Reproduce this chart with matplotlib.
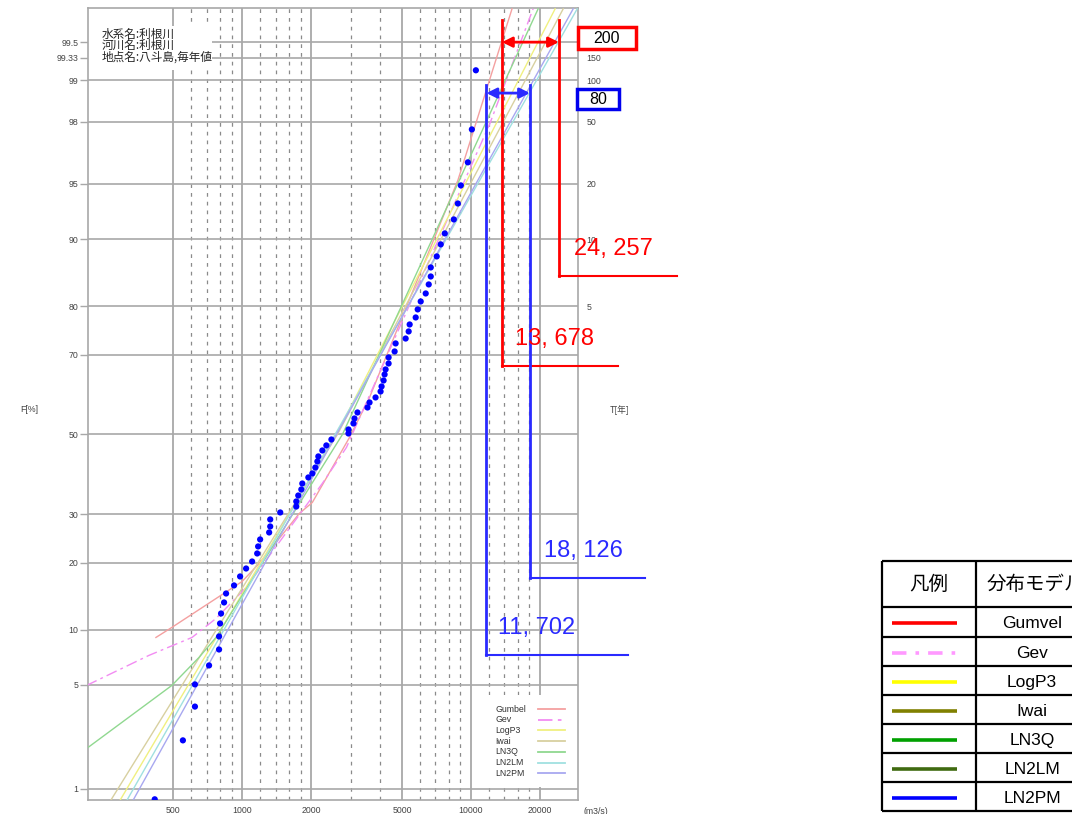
import matplotlib
matplotlib.use('Agg')
import matplotlib.pyplot as plt
from matplotlib.patches import Rectangle
from matplotlib.ticker import NullLocator
from statistics import NormalDist
import numpy as np

# ---------------- data ----------------
obs_Q = [415, 551, 622, 622, 717, 793, 793, 801, 809, 834,
         851, 922, 980, 1041, 1106, 1164, 1175, 1199, 1313, 1327,
         1327, 1468, 1725, 1725, 1760, 1815, 1833, 1948, 2028, 2090,
         2133, 2154, 2243, 2335, 2457, 2917, 2917, 3068, 3099, 3194,
         3533, 3606, 3831, 4030, 4071, 4154, 4196, 4239, 4369, 4369,
         4642, 4689, 5187, 5347, 5401, 5739, 5856, 6036, 6348, 6544,
         6678, 6678, 7093, 7384, 7691, 8423, 8770, 9041, 9701, 10101,
         10517]
obs_F = [0.83, 2.23, 3.70, 5.04, 6.47, 7.90, 9.24, 10.73, 11.99, 13.50,
         14.82, 16.08, 17.56, 18.94, 20.21, 21.73, 23.11, 24.53, 26.00, 27.29,
         28.84, 30.43, 31.81, 33.00, 34.43, 35.90, 37.37, 38.89, 39.90, 41.41,
         42.97, 44.27, 45.82, 47.13, 48.68, 50.26, 51.31, 52.88, 54.18, 55.74,
         57.03, 58.32, 59.60, 61.11, 62.37, 63.85, 65.32, 66.53, 67.94, 69.35,
         70.71, 72.50, 73.56, 75.06, 76.49, 77.88, 79.42, 80.87, 82.27, 83.77,
         85.02, 86.36, 87.88, 89.40, 90.66, 92.10, 93.53, 94.90, 96.30, 97.74,
         99.16]

gumbel_F = [9.13, 10.26, 16.72, 19.85, 30.19, 32.77, 49.2, 59.6, 95.23, 99.74]
gumbel_Q = [420, 493, 1000, 1187, 1778, 2028, 2946, 3606, 8770, 15130]
gev_F = [4.97, 7.34, 9.13, 11.35, 15.75, 37.4, 46.6, 97.94, 99.74]
gev_Q = [209, 391, 604, 769, 1041, 2243, 2858, 12110, 18710]
logp3_F = [0.81, 50.0, 99.74]
logp3_Q = [292, 2585, 23350]
iwai_F = [0.81, 50.0, 99.74]
iwai_Q = [266, 2610, 25330]
ln3q_F = [1.96, 4.97, 7.16, 9.13, 50.0, 99.74]
ln3q_Q = [209, 493, 648, 769, 2745, 19680]
ln2lm_F = [0.81, 99.74]
ln2lm_Q = [313, 29170]
ln2pm_F = [0.81, 99.74]
ln2pm_Q = [333, 28000]

model_names = ['Gumbel', 'Gev', 'LogP3', 'Iwai', 'LN3Q', 'LN2LM', 'LN2PM']
table_names = ['Gumvel', 'Gev', 'LogP3', 'Iwai', 'LN3Q', 'LN2LM', 'LN2PM']

F_ticks = [99.5, 99.33, 99, 98, 95, 90, 80, 70, 50, 30, 20, 10, 5, 1]
F_labels = ['99.5', '99.33', '99', '98', '95', '90', '80', '70', '50', '30', '20', '10', '5', '1']
T_ticks = [150, 100, 50, 20, 10, 5]
x_major = [500, 1000, 2000, 5000, 10000, 20000]
x_minor = [600, 700, 800, 900, 1200, 1400, 1600, 1800, 3000, 4000,
           6000, 7000, 8000, 9000, 12000, 14000, 16000, 18000]

q200_low, q200_high = 13678, 24257
q80_low, q80_high = 11702, 18126
T_red, T_blue = 200, 80

# ---------------- helpers ----------------
nd = NormalDist()
def zf(p):
    return nd.inv_cdf(p / 100.0)
def zs(ps):
    return [zf(p) for p in ps]

W, H = 1072, 814
L, R, T, B = 88, 578, 8, 800
XMIN, XMAX = 212, 29400
YMIN, YMAX = -2.40, 2.80

def qpx(px):
    return 10 ** (np.log10(XMIN) + (px - L) / (R - L) * np.log10(XMAX / XMIN))
def zpx(py):
    return YMIN + (B - py) / (B - T) * (YMAX - YMIN)
def axx(px):
    return (px - L) / (R - L)
def axy(py):
    return (B - py) / (B - T)

fig = plt.figure(figsize=(W / 100, H / 100), dpi=100)
fig.patch.set_facecolor('white')
ax = fig.add_axes([L / W, 1 - B / H, (R - L) / W, (B - T) / H])
ax.set_xscale('log')
ax.set_xlim(XMIN, XMAX)
ax.set_ylim(YMIN, YMAX)

# grid
for v in x_major:
    ax.axvline(v, color='#a8a8a8', lw=1.3, zorder=1)
for v in x_minor:
    ax.axvline(v, color='#8a8a8a', lw=0.9, ls=(0, (3, 4)), zorder=1)
for f in F_ticks:
    ax.axhline(zf(f), color='#a8a8a8', lw=1.2, zorder=1)

for s in ax.spines.values():
    s.set_color('#a8a8a8')
    s.set_linewidth(1.2)

tick_font = dict(family='Liberation Sans', size=6.3)
ax.set_xticks(x_major)
ax.set_xticklabels([str(v) for v in x_major], color='#444444', **tick_font)
ax.xaxis.set_minor_locator(NullLocator())
ax.tick_params(axis='x', length=0, pad=4)
ax.set_yticks(zs(F_ticks))
ax.set_yticklabels(F_labels, color='#444444', **tick_font)
ax.tick_params(axis='y', length=6, width=1, color='#a8a8a8', pad=1)

ax2 = ax.twinx()
ax2.set_ylim(YMIN, YMAX)
ax2.set_yticks(zs([100 - 100.0 / t for t in T_ticks]))
ax2.set_yticklabels([str(t) for t in T_ticks], color='#444444', **tick_font)
ax2.tick_params(axis='y', length=0, pad=6)
for s in ax2.spines.values():
    s.set_visible(False)

# info text box (top-left)
ax.add_patch(Rectangle((0, axy(70)), axx(212), axy(26) - axy(70),
                       transform=ax.transAxes, facecolor='white', edgecolor='none', zorder=2))
info = ['水系名:利根川', '河川名:利根川', '地点名:八斗島,毎年値']
for i, t in enumerate(info):
    ax.text(axx(102), axy(34 + 11.5 * i), t, transform=ax.transAxes,
            fontsize=8.4, family=['Noto Sans CJK JP', 'DejaVu Sans'], color='#222222',
            va='center', ha='left', zorder=3)

# curves
chart_styles = [
    (gumbel_Q, gumbel_F, '#f4a0a0', '-'),
    (gev_Q, gev_F, '#f28cf2', (0, (8, 3, 2, 3))),
    (logp3_Q, logp3_F, '#f0f080', '-'),
    (iwai_Q, iwai_F, '#d8d0a0', '-'),
    (ln3q_Q, ln3q_F, '#90d890', '-'),
    (ln2lm_Q, ln2lm_F, '#a0e0e0', '-'),
    (ln2pm_Q, ln2pm_F, '#a8a8f0', '-'),
]
for (q, f, c, ls) in chart_styles:
    ax.plot(q, zs(f), color=c, lw=1.0, ls=ls, zorder=3)

ax.scatter(obs_Q, zs(obs_F), s=20, color='#0000ff', edgecolors='none', zorder=5)

# in-chart legend (text left, line sample right)
ax.add_patch(Rectangle((axx(474), axy(787)), axx(576) - axx(474), axy(695) - axy(787),
                       transform=ax.transAxes, facecolor='white', edgecolor='none', zorder=4))
for i, (name, (q, f, c, ls)) in enumerate(zip(model_names, chart_styles)):
    yy = axy(709 + 10.7 * i)
    ax.text(axx(495), yy, name, transform=ax.transAxes, fontsize=6.3,
            family='Liberation Sans', color='#333333', va='center', ha='left', zorder=5)
    ax.plot([axx(538), axx(565)], [yy, yy], transform=ax.transAxes, color=c, lw=1.3,
            ls=ls, zorder=5)

# annotations (range of estimates)
def vline(q, ytop, ybot, xend, color):
    ax.plot([q, q], [zpx(ytop), zpx(ybot)], color=color, lw=2, clip_on=False, zorder=6)
    ax.plot([q, qpx(xend)], [zpx(ybot), zpx(ybot)], color=color, lw=1.5, clip_on=False, zorder=6)

vline(q200_low, 20, 366, 618, '#ff0000')
vline(q200_high, 20, 276, 677, '#ff0000')
vline(q80_low, 85, 655, 628, '#2a2aff')
vline(q80_high, 85, 578, 645, '#2a2aff')

for lo, hi, tt, c in [(q200_low, q200_high, T_red, '#ff0000'), (q80_low, q80_high, T_blue, '#2a2aff')]:
    zz = zf(100 - 100.0 / tt)
    ax.annotate('', xy=(hi, zz), xytext=(lo, zz), annotation_clip=False,
                arrowprops=dict(arrowstyle='<|-|>', color=c, lw=2, mutation_scale=15,
                                shrinkA=0, shrinkB=0), zorder=7)

big = dict(fontsize=17, family=['Liberation Sans Narrow', 'Liberation Sans'], va='center', ha='left')
fig.text(574 / W, 1 - 249 / H, '24, 257', color='#ff0000', **big)
fig.text(515 / W, 1 - 339 / H, '13, 678', color='#ff0000', **big)
fig.text(544 / W, 1 - 551 / H, '18, 126', color='#2a2aff', **big)
fig.text(498 / W, 1 - 628 / H, '11, 702', color='#2a2aff', **big)

fig.add_artist(Rectangle((578 / W, 1 - 49 / H), 58 / W, 22 / H, transform=fig.transFigure,
                         facecolor='white', edgecolor='#ff0000', lw=2.5, zorder=8))
fig.text(607 / W, 1 - 38.5 / H, str(T_red), fontsize=11.5, family='Liberation Sans',
         ha='center', va='center', zorder=9)
fig.add_artist(Rectangle((577 / W, 1 - 109 / H), 42 / W, 20 / H, transform=fig.transFigure,
                         facecolor='white', edgecolor='#0000ee', lw=2.5, zorder=8))
fig.text(598 / W, 1 - 99.5 / H, str(T_blue), fontsize=11.5, family='Liberation Sans',
         ha='center', va='center', zorder=9)

# axis titles
fig.text(20 / W, 1 - 410 / H, 'F[%]', fontsize=6.3, family='Liberation Sans', color='#444444',
         va='center', ha='left')
fig.text(610 / W, 1 - 410 / H, 'T[年]', fontsize=6.3, family=['Noto Sans CJK JP', 'DejaVu Sans'],
         color='#444444', va='center', ha='left')
fig.text(584 / W, 1 - 811 / H, '(m3/s)', fontsize=6.3, family='Liberation Sans', color='#444444',
         va='center', ha='left')

# legend table on the right (cut by the figure edge, as in the source)
tax = fig.add_axes([0, 0, 1, 1])
tax.set_xlim(0, W)
tax.set_ylim(H, 0)
tax.axis('off')
row_y = [561, 607, 637, 666, 695, 724, 753, 782, 811]
for yy in row_y:
    tax.plot([882, 1100], [yy, yy], color='black', lw=1.6, solid_capstyle='butt')
for xx in [882, 976]:
    tax.plot([xx, xx], [561, 811], color='black', lw=1.6, solid_capstyle='butt')
cjk = ['Noto Sans CJK JP', 'DejaVu Sans']
tax.text(929, 584, '凡例', fontsize=14, family=cjk, ha='center', va='center')
tax.text(987, 584, '分布モデル', fontsize=14, family=cjk, ha='left', va='center')
table_styles = [('#ff0000', '-'), ('#ff99ff', (0, (4, 2.5, 1, 2.5))), ('#ffff00', '-'),
                ('#808000', '-'), ('#00a000', '-'), ('#3f6a10', '-'), ('#0000ff', '-')]
for i, (name, (c, ls)) in enumerate(zip(table_names, table_styles)):
    yc = (row_y[i + 1] + row_y[i + 2]) / 2 + 1
    tax.plot([892, 957], [yc, yc], color=c, lw=2.6, ls=ls, solid_capstyle='butt')
    tax.text(1032, yc + 1, name, fontsize=12.5, family='Liberation Sans', ha='center', va='center')

fig.savefig('out.png', dpi=100)
